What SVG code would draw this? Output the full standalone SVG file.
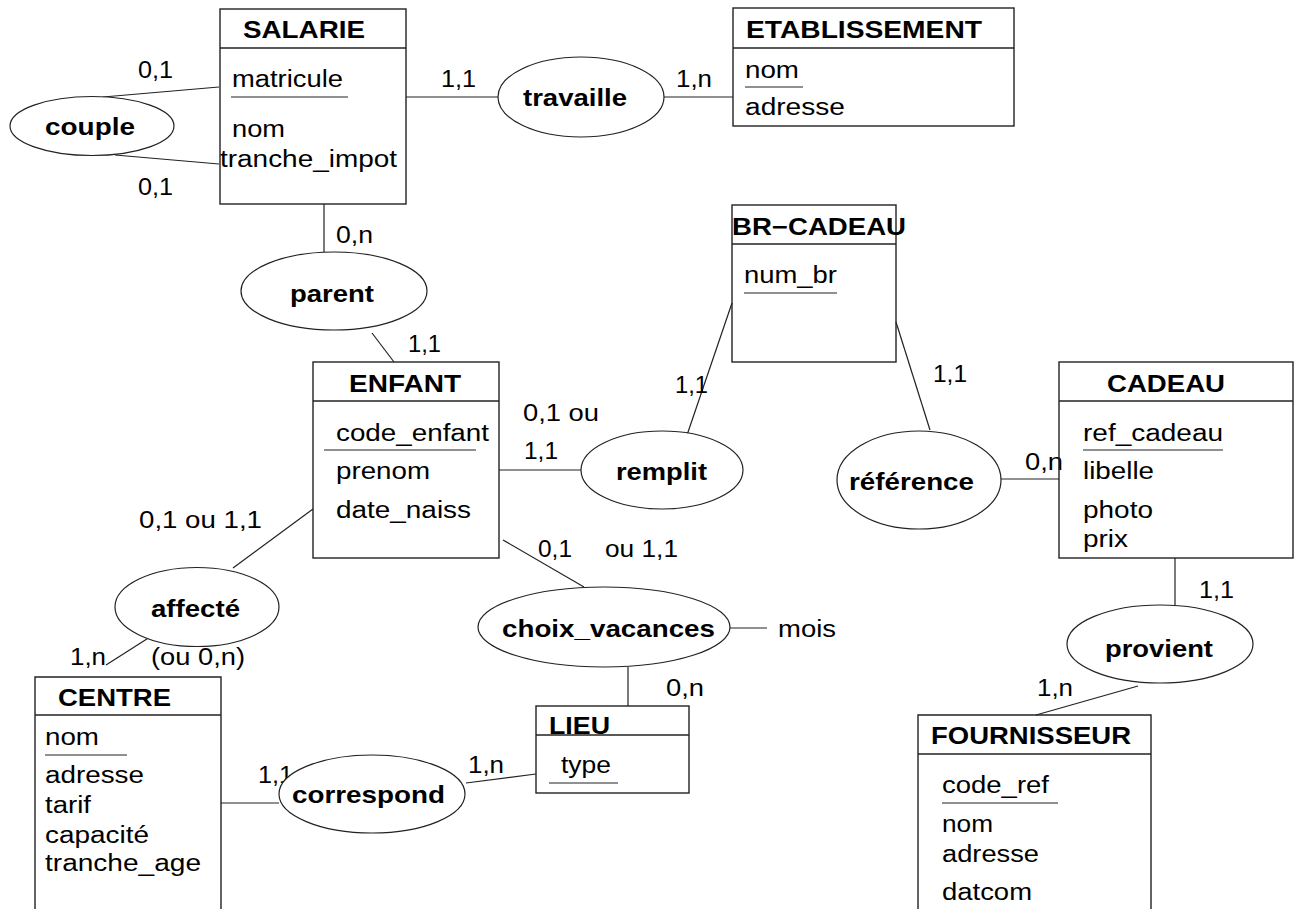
<svg xmlns="http://www.w3.org/2000/svg" width="1296" height="909" viewBox="0 0 1296 909">
  <style>
    .box { fill: none; stroke: #222; stroke-width: 1.4; }
    .rel { fill: #fff; stroke: #222; stroke-width: 1.2; }
    .ln { stroke: #222; stroke-width: 1.2; fill: none; }
    text { font-family: "Liberation Sans", Arial, sans-serif; fill: #000; }
    .t { font-size: 23px; }
    .b { font-size: 24px; font-weight: bold; }
  </style>
  <rect x="0" y="0" width="1296" height="909" fill="#fff"/>

  <!-- connectors and cardinalities -->
  <g id="connectors">
    <line class="ln" x1="103" y1="97" x2="219" y2="87"/>
    <line class="ln" x1="115" y1="155" x2="219" y2="164"/>
    <line class="ln" x1="406" y1="97" x2="498" y2="97"/>
    <line class="ln" x1="664" y1="97" x2="733" y2="97"/>
    <line class="ln" x1="324" y1="204" x2="324" y2="252"/>
    <line class="ln" x1="372" y1="333" x2="394" y2="362"/>
    <line class="ln" x1="499" y1="470" x2="581" y2="470"/>
    <line class="ln" x1="686" y1="438" x2="732" y2="303"/>
    <line class="ln" x1="896" y1="322" x2="930" y2="430"/>
    <line class="ln" x1="1001" y1="479" x2="1059" y2="479"/>
    <line class="ln" x1="1175" y1="558" x2="1175" y2="605"/>
    <line class="ln" x1="1138" y1="686" x2="1036" y2="715"/>
    <line class="ln" x1="313" y1="509" x2="233" y2="568"/>
    <line class="ln" x1="150" y1="637" x2="106" y2="665"/>
    <line class="ln" x1="221" y1="803" x2="279" y2="803"/>
    <line class="ln" x1="466" y1="783" x2="536" y2="774"/>
    <line class="ln" x1="503" y1="540" x2="584" y2="587"/>
    <line class="ln" x1="730" y1="628" x2="767" y2="628"/>
    <line class="ln" x1="628" y1="667" x2="628" y2="706"/>

    <text class="t" x="138" y="78" textLength="35" lengthAdjust="spacingAndGlyphs">0,1</text>
    <text class="t" x="138" y="195" textLength="35" lengthAdjust="spacingAndGlyphs">0,1</text>
    <text class="t" x="441" y="87" textLength="35" lengthAdjust="spacingAndGlyphs">1,1</text>
    <text class="t" x="676" y="87" textLength="36" lengthAdjust="spacingAndGlyphs">1,n</text>
    <text class="t" x="336" y="243" textLength="37" lengthAdjust="spacingAndGlyphs">0,n</text>
    <text class="t" x="408" y="352" textLength="33" lengthAdjust="spacingAndGlyphs">1,1</text>
    <text class="t" x="523" y="421" textLength="76" lengthAdjust="spacingAndGlyphs">0,1 ou</text>
    <text class="t" x="524" y="459" textLength="34" lengthAdjust="spacingAndGlyphs">1,1</text>
    <text class="t" x="675" y="393" textLength="33" lengthAdjust="spacingAndGlyphs">1,1</text>
    <text class="t" x="933" y="382" textLength="34" lengthAdjust="spacingAndGlyphs">1,1</text>
    <text class="t" x="1025" y="470" textLength="38" lengthAdjust="spacingAndGlyphs">0,n</text>
    <text class="t" x="1199" y="598" textLength="35" lengthAdjust="spacingAndGlyphs">1,1</text>
    <text class="t" x="1037" y="696" textLength="36" lengthAdjust="spacingAndGlyphs">1,n</text>
    <text class="t" x="139" y="528" textLength="123" lengthAdjust="spacingAndGlyphs">0,1 ou 1,1</text>
    <text class="t" x="70" y="665" textLength="36" lengthAdjust="spacingAndGlyphs">1,n</text>
    <text class="t" x="151" y="665" textLength="94" lengthAdjust="spacingAndGlyphs">(ou 0,n)</text>
    <text class="t" x="258" y="783" textLength="35" lengthAdjust="spacingAndGlyphs">1,1</text>
    <text class="t" x="468" y="773" textLength="36" lengthAdjust="spacingAndGlyphs">1,n</text>
    <text class="t" x="538" y="557" textLength="34" lengthAdjust="spacingAndGlyphs">0,1</text>
    <text class="t" x="605" y="557" textLength="73" lengthAdjust="spacingAndGlyphs">ou 1,1</text>
    <text class="t" x="666" y="696" textLength="38" lengthAdjust="spacingAndGlyphs">0,n</text>
    <text class="t" x="778" y="637" textLength="58" lengthAdjust="spacingAndGlyphs">mois</text>
  </g>

  <!-- entities -->
  <g id="salarie">
    <rect class="box" x="220" y="9" width="186" height="195"/>
    <line class="box" x1="220" y1="48" x2="406" y2="48"/>
    <text class="b" x="243" y="38" textLength="122" lengthAdjust="spacingAndGlyphs">SALARIE</text>
    <text class="t" x="232" y="87" textLength="111" lengthAdjust="spacingAndGlyphs">matricule</text>
    <line class="ln" x1="231" y1="97" x2="348" y2="97"/>
    <text class="t" x="232" y="137" textLength="53" lengthAdjust="spacingAndGlyphs">nom</text>
    <text class="t" x="220" y="167" textLength="177" lengthAdjust="spacingAndGlyphs">tranche_impot</text>
  </g>

  <g id="etablissement">
    <rect class="box" x="733" y="8" width="281" height="118"/>
    <line class="box" x1="733" y1="48" x2="1014" y2="48"/>
    <text class="b" x="746" y="38" textLength="236" lengthAdjust="spacingAndGlyphs">ETABLISSEMENT</text>
    <text class="t" x="745" y="78" textLength="54" lengthAdjust="spacingAndGlyphs">nom</text>
    <line class="ln" x1="745" y1="87" x2="803" y2="87"/>
    <text class="t" x="745" y="115" textLength="100" lengthAdjust="spacingAndGlyphs">adresse</text>
  </g>

  <g id="enfant">
    <rect class="box" x="313" y="362" width="186" height="196"/>
    <line class="box" x1="313" y1="401" x2="499" y2="401"/>
    <text class="b" x="349" y="392" textLength="112" lengthAdjust="spacingAndGlyphs">ENFANT</text>
    <text class="t" x="336" y="441" textLength="153" lengthAdjust="spacingAndGlyphs">code_enfant</text>
    <line class="ln" x1="324" y1="450" x2="476" y2="450"/>
    <text class="t" x="336" y="479" textLength="94" lengthAdjust="spacingAndGlyphs">prenom</text>
    <text class="t" x="336" y="518" textLength="135" lengthAdjust="spacingAndGlyphs">date_naiss</text>
  </g>

  <g id="br-cadeau">
    <rect class="box" x="732" y="205" width="164" height="157"/>
    <line class="box" x1="732" y1="244" x2="896" y2="244"/>
    <text class="b" x="732" y="235" textLength="174" lengthAdjust="spacingAndGlyphs">BR−CADEAU</text>
    <text class="t" x="744" y="283" textLength="93" lengthAdjust="spacingAndGlyphs">num_br</text>
    <line class="ln" x1="744" y1="293" x2="837" y2="293"/>
  </g>

  <g id="cadeau">
    <rect class="box" x="1059" y="362" width="234" height="196"/>
    <line class="box" x1="1059" y1="401" x2="1293" y2="401"/>
    <text class="b" x="1107" y="392" textLength="118" lengthAdjust="spacingAndGlyphs">CADEAU</text>
    <text class="t" x="1083" y="441" textLength="140" lengthAdjust="spacingAndGlyphs">ref_cadeau</text>
    <line class="ln" x1="1083" y1="450" x2="1223" y2="450"/>
    <text class="t" x="1083" y="479" textLength="71" lengthAdjust="spacingAndGlyphs">libelle</text>
    <text class="t" x="1083" y="518" textLength="70" lengthAdjust="spacingAndGlyphs">photo</text>
    <text class="t" x="1083" y="547" textLength="45" lengthAdjust="spacingAndGlyphs">prix</text>
  </g>

  <g id="fournisseur">
    <path class="box" d="M918 909 V715 H1151 V909"/>
    <line class="box" x1="918" y1="754" x2="1151" y2="754"/>
    <text class="b" x="931" y="744" textLength="200" lengthAdjust="spacingAndGlyphs">FOURNISSEUR</text>
    <text class="t" x="942" y="793" textLength="107" lengthAdjust="spacingAndGlyphs">code_ref</text>
    <line class="ln" x1="942" y1="803" x2="1058" y2="803"/>
    <text class="t" x="942" y="832" textLength="51" lengthAdjust="spacingAndGlyphs">nom</text>
    <text class="t" x="942" y="862" textLength="97" lengthAdjust="spacingAndGlyphs">adresse</text>
    <text class="t" x="942" y="900" textLength="90" lengthAdjust="spacingAndGlyphs">datcom</text>
  </g>

  <g id="centre">
    <path class="box" d="M35 909 V677 H221 V909"/>
    <line class="box" x1="35" y1="715" x2="221" y2="715"/>
    <text class="b" x="58" y="706" textLength="113" lengthAdjust="spacingAndGlyphs">CENTRE</text>
    <text class="t" x="45" y="745" textLength="54" lengthAdjust="spacingAndGlyphs">nom</text>
    <line class="ln" x1="45" y1="755" x2="127" y2="755"/>
    <text class="t" x="45" y="783" textLength="99" lengthAdjust="spacingAndGlyphs">adresse</text>
    <text class="t" x="45" y="813" textLength="46" lengthAdjust="spacingAndGlyphs">tarif</text>
    <text class="t" x="45" y="843" textLength="104" lengthAdjust="spacingAndGlyphs">capacité</text>
    <text class="t" x="45" y="871" textLength="156" lengthAdjust="spacingAndGlyphs">tranche_age</text>
  </g>

  <g id="lieu">
    <rect class="box" x="536" y="706" width="153" height="87"/>
    <line class="box" x1="536" y1="735" x2="689" y2="735"/>
    <text class="b" x="549" y="734" textLength="61" lengthAdjust="spacingAndGlyphs">LIEU</text>
    <text class="t" x="561" y="773" textLength="50" lengthAdjust="spacingAndGlyphs">type</text>
    <line class="ln" x1="549" y1="783" x2="618" y2="783"/>
  </g>

  <!-- relationships -->
  <g id="couple">
    <ellipse class="rel" cx="92" cy="126" rx="82" ry="29.5"/>
    <text class="b" x="45" y="135" textLength="90" lengthAdjust="spacingAndGlyphs">couple</text>
  </g>
  <g id="travaille">
    <ellipse class="rel" cx="581" cy="97" rx="83" ry="40"/>
    <text class="b" x="523" y="106" textLength="104" lengthAdjust="spacingAndGlyphs">travaille</text>
  </g>
  <g id="parent">
    <ellipse class="rel" cx="334" cy="291" rx="93" ry="39"/>
    <text class="b" x="290" y="302" textLength="84" lengthAdjust="spacingAndGlyphs">parent</text>
  </g>
  <g id="remplit">
    <ellipse class="rel" cx="662" cy="470" rx="81" ry="39"/>
    <text class="b" x="616" y="480" textLength="91" lengthAdjust="spacingAndGlyphs">remplit</text>
  </g>
  <g id="reference">
    <ellipse class="rel" cx="919" cy="480" rx="82" ry="49"/>
    <text class="b" x="849" y="490" textLength="125" lengthAdjust="spacingAndGlyphs">référence</text>
  </g>
  <g id="provient">
    <ellipse class="rel" cx="1160" cy="644" rx="93" ry="39"/>
    <text class="b" x="1105" y="657" textLength="108" lengthAdjust="spacingAndGlyphs">provient</text>
  </g>
  <g id="affecte">
    <ellipse class="rel" cx="197" cy="607" rx="82" ry="39.5"/>
    <text class="b" x="151" y="617" textLength="89" lengthAdjust="spacingAndGlyphs">affecté</text>
  </g>
  <g id="correspond">
    <ellipse class="rel" cx="372" cy="794" rx="93" ry="39"/>
    <text class="b" x="292" y="803" textLength="153" lengthAdjust="spacingAndGlyphs">correspond</text>
  </g>
  <g id="choix_vacances">
    <ellipse class="rel" cx="604" cy="627" rx="126" ry="40"/>
    <text class="b" x="502" y="637" textLength="213" lengthAdjust="spacingAndGlyphs">choix_vacances</text>
  </g>
</svg>
